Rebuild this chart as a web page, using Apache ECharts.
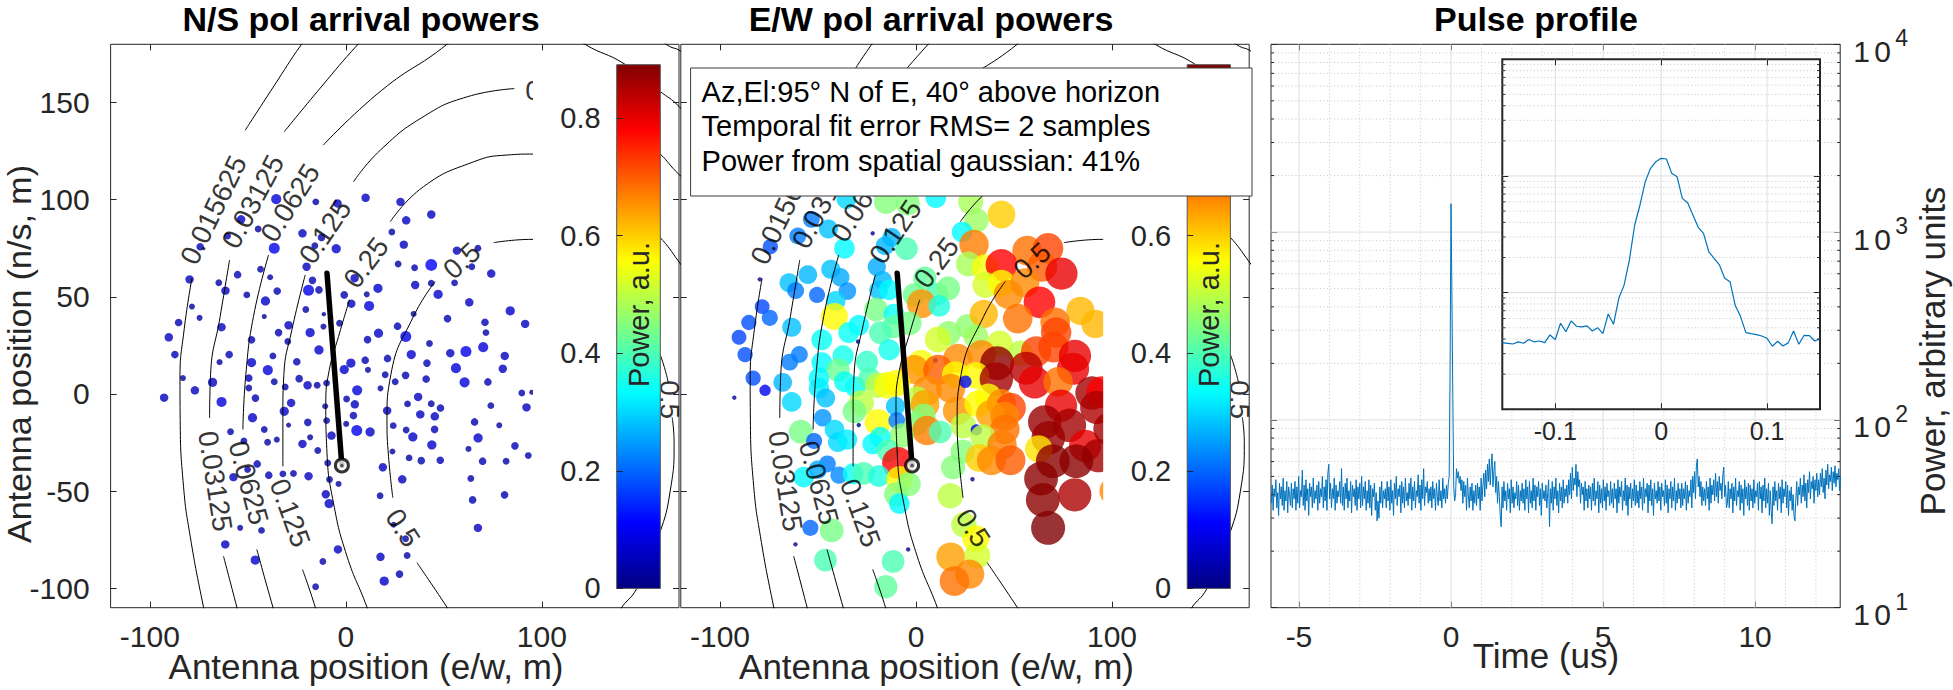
<!DOCTYPE html>
<html>
<head>
<meta charset="utf-8">
<title>Arrival powers and pulse profile</title>
<script src="https://cdn.jsdelivr.net/npm/echarts@6/dist/echarts.min.js"></script>
<style>
  html, body { margin: 0; padding: 0; background: #fff; }
  #chart { width: 1953px; height: 690px; }
</style>
</head>
<body>
<div id="chart"></div>
<script>
// antenna positions (m)
const antX = [
  -35.5,-15.3,-4.2,10.1,27.9,-53.4,-44.7,-22.1,-12.4,43.6,
  30.8,23.5,-60.3,-74.3,-36.5,-15.8,-4.9,29.6,56.7,67.4,
  -20.0,26.7,35.1,43.6,64.3,74.2,-43.5,-55.2,-38.6,-79.7,
  -17.0,4.5,-64.8,-61.4,-35.0,-19.0,-13.7,-0.8,10.7,16.4,
  35.4,43.6,55.5,-50.5,-41.0,-20.4,2.8,11.9,63.0,47.1,
  -78.5,-74.6,-41.6,-11.2,83.9,91.5,-85.3,-29.2,-11.4,-3.2,
  26.4,34.6,51.9,71.0,71.5,-63.4,-90.3,-34.3,-18.2,16.7,
  30.6,-48.1,-29.6,11.1,42.7,-13.7,53.3,61.3,70.1,-87.2,
  -59.5,-37.2,33.4,81.1,21.3,2.6,9.9,-64.4,-48.1,-25.0,
  -39.8,-0.8,11.3,41.4,56.2,80.1,
  -83.1,-68.0,-49.5,20.1,30.5,41.0,60.6,72.5,-49.5,-92.7,
  -77.0,-63.4,-36.5,-30.9,-23.8,-19.5,-14.6,-9.8,5.8,17.7,
  25.2,-46.1,-27.9,-31.4,-10.5,0.4,4.6,3.9,21.1,36.9,
  31.5,43.6,48.3,38.0,45.4,89.8,94.9,74.0,92.2,-47.6,
  -19.4,-9.8,0.2,5.6,12.4,24.2,30.8,45.3,65.7,78.3,
  -41.6,-58.8,-7.3,-18.2,34.2,67.5,-52.0,-39.9,-35.2,-22.1,
  -14.3,23.8,43.9,62.6,86.3,93.1,-9.2,-45.2,18.9,32.3,
  38.5,48.2,69.8,81.8,-57.3,-50.1,-39.3,-32.1,-26.7,-19.0,
  -8.3,-3.7,28.8,63.8,-10.2,-8.5,17.5,64.7,81.0,24.4,
  -53.9,-43.0,-61.5,67.4,30.5,-4.0,17.7,31.3,-46.2,-11.7,
  27.4,19.6,-15.4,-29.2,101,99
];
const antY = [
  100.3,98.9,98.1,101.0,98.9,89.9,84.9,82.7,80.6,92.4,
  89.4,83.4,81.3,75.8,75.0,76.3,74.8,76.9,73.8,75.0,
  65.5,66.9,65.0,66.4,65.5,62.0,64.2,61.4,60.1,59.0,
  58.5,59.6,57.3,53.2,53.0,53.4,53.6,51.0,51.3,54.4,
  56.1,57.0,57.2,51.0,47.9,43.5,46.5,45.3,47.2,51.3,
  45.0,39.2,39.9,41.1,42.8,36.1,36.8,35.4,34.7,36.4,
  34.9,41.2,38.8,36.9,31.6,34.4,29.2,31.6,31.6,31.3,
  29.6,27.9,27.0,28.0,26.0,22.7,21.0,21.9,24.1,20.3,
  20.3,19.6,20.3,19.6,18.3,15.9,17.4,16.4,16.2,16.6,
  12.3,12.6,12.4,15.9,13.3,13.0,
  8.2,6.0,8.2,9.9,9.6,7.7,6.0,6.2,3.1,-1.9,
  1.9,-4.1,6.3,3.6,7.9,4.5,4.5,5.6,1.9,2.9,
  6.3,-2.1,-4.6,-8.9,-6.3,-2.6,-5.3,-11.1,-8.6,-1.5,
  -5.1,-5.0,-7.2,-10.5,-11.5,0.5,0.9,-6.0,-6.9,-12.2,
  -14.6,-13.7,-15.4,-18.8,-19.5,-16.3,-18.5,-18.2,-14.4,-16.1,
  -18.3,-19.4,-21.4,-22.3,-22.1,-22.6,-24.2,-24.8,-23.5,-25.7,
  -29.1,-29.6,-26.2,-28.3,-26.7,-31.7,-35.5,-36.0,-37.7,-32.9,
  -34.3,-34.1,-34.6,-34.6,-42.8,-38.9,-41.8,-41.1,-40.9,-42.3,
  -44.0,-46.3,-43.9,-43.5,-51.6,-56.4,-52.4,-54.5,-51.9,-67.3,
  -68.9,-70.2,-77.4,-68.9,-74.5,-80.0,-83.8,-83.1,-85.5,-86.2,
  -92.7,-96.3,-99.2,-16.0,-50,-18
];
// N/S and E/W arrival power per antenna (a.u.)
const powerNS = [
  .079,.036,.055,.055,.055,.055,.036,.055,.045,.055,
  .055,.036,.036,.045,.093,.036,.066,.055,.055,.036,
  .055,.036,.036,.108,.036,.055,.036,.045,.028,.055,
  .045,.055,.036,.055,.045,.093,.045,.045,.028,.066,
  .055,.036,.036,.036,.066,.036,.055,.079,.055,.066,
  .028,.028,.020,.015,.066,.055,.045,.055,.028,.036,
  .045,.028,.045,.045,.036,.055,.055,.045,.066,.066,
  .093,.045,.036,.045,.036,.066,.055,.093,.079,.045,
  .045,.036,.066,.055,.045,.066,.045,.028,.066,.045,
  .079,.066,.028,.045,.079,.055,
  .028,.066,.045,.036,.045,.045,.079,.045,.036,.055,
  .055,.079,.036,.036,.045,.055,.036,.036,.079,.028,
  .036,.045,.055,.066,.028,.036,.055,.045,.055,.055,
  .036,.036,.045,.055,.055,.036,.020,.036,.055,.066,
  .045,.036,.028,.093,.066,.036,.036,.045,.045,.028,
  .036,.036,.055,.028,.066,.066,.036,.036,.028,.055,
  .036,.028,.066,.028,.045,.036,.036,.045,.055,.036,
  .045,.045,.045,.036,.055,.036,.045,.036,.036,.055,
  .036,.028,.055,.036,.055,.066,.036,.045,.045,.028,
  .028,.036,.055,.055,.036,.055,.055,.036,.066,.036,
  .045,.066,.036,.020,.055,.045
];
const powerEW = [
  .30,.45,.45,.33,.48,.22,.28,.015,.27,.60,
  .47,.33,.22,.18,.33,.27,.40,.67,.68,.72,
  .26,.48,.55,.78,.70,.80,.28,.27,.26,.015,
  .27,.42,.28,.22,.24,.28,.33,.43,.40,.44,
  .52,.56,.66,.20,.30,.44,.65,.36,.78,.66,
  .17,.20,.56,.34,.62,.62,.18,.33,.42,.44,
  .46,.62,.68,.68,.72,.28,.17,.34,.40,.46,
  .47,.34,.015,.52,.52,.35,.50,.72,.72,.18,
  .22,.35,.66,.80,.66,.55,.02,.22,.33,.38,
  .43,.65,.70,.88,.84,.80,
  .18,.27,.33,.56,.56,.86,.80,.68,.32,.015,
  .10,.30,.34,.34,.40,.50,.55,.56,.66,.66,
  .12,.28,.50,.44,.28,.50,.64,.45,.65,.56,
  .56,.66,.72,.64,.66,.86,.78,.80,.85,.24,
  .56,.22,.45,.67,.40,.50,.10,.68,.87,.86,
  .30,.44,.46,.34,.50,.87,.20,.30,.32,.33,
  .40,.45,.67,.58,.80,.86,.78,.22,.45,.60,
  .66,.70,.88,.88,.33,.26,.23,.34,.40,.36,
  .56,.45,.015,.88,.45,.33,.50,.88,.85,.50,
  .20,.44,.015,.89,.56,.015,.64,.52,.40,.40,
  .66,.68,.42,.015,.66,.86
];

// model contours (m), one list of line pieces per level, gaps where the labels sit
const contourSegs = [
  [ [[-12,194],[-22.6,180],[-37,158],[-51.3,135.8]],
    [[-78.5,59.6],[-82.5,33],[-84.6,8],[-84.5,-13.2],[-82.8,-47.5],[-79.4,-73.2],[-72.6,-109.7],[-70,-120]] ],
  [ [[18,192],[6.2,180],[-12.6,158],[-31.4,135]],
    [[-59.3,69],[-64.1,39.9],[-69,10],[-69.5,-12.3]],
    [[-62.4,-83.5],[-55.6,-109.7],[-53,-120]],
    [[155,186],[165,179],[170,177],[190,163]] ],
  [ [[60,190],[51.6,180],[18.4,156.4],[-11.5,128.1]],
    [[-39.4,71.6],[-47.1,39.9],[-51,10],[-52.5,-18.3]],
    [[-45.4,-80],[-37.2,-109.7],[-34,-120]],
    [[112,188],[122,180],[142,170],[160,156],[170,148],[190,125]] ],
  [ [[200,60],[185,100],[170,113],[160,124],[140,142],[127,147]],
    [[86,157.2],[62,153],[40,143],[17.6,125.5],[3.9,109.2]],
    [[-20.7,61.3],[-27.5,33],[-31.6,10],[-32.1,-10],[-32.1,-37.2]],
    [[-22.1,-90.3],[-15.6,-109.7],[-13,-120]] ],
  [ [[190,40],[170,68],[160,81],[140,101],[120,116],[95.8,123.5],[82.2,123],[65.2,119.5],[39.6,106.7],[22.7,88.7]],
    [[1.9,48.5],[-3.7,29.6],[-8.5,12],[-10.2,-5],[-9.6,-30.3],[-6.3,-56],[0.6,-83.5],[10.8,-109.7],[14,-120]] ],
  [ [[58,-120],[51.6,-109.7],[36.3,-86.8]],
    [[24,-53.4],[21.8,-32.1],[21,-13.2],[23,10],[34.5,39.9],[45.6,57.9]],
    [[75.4,77.9],[95,79.6],[115,77],[137.5,60],[152,40],[160.5,20],[164.5,6]],
    [[166.5,-12],[167.5,-25],[165.5,-50],[160,-72],[148.5,-100],[140,-111],[136,-120]] ]
];
const contourLabelText  = ['0.015625','0.03125','0.0625','0.125','0.25','0.5','0.03125','0.0625','0.125','0.5','0.5','0.125'];
const contourLabelX     = [-67.5,-47.4,-28.4,-10.5,10.4,59.2,-66.6,-49.6,-28.4,29.1,165.3,91.5];
const contourLabelY     = [94.7,99,98.4,83.5,67.6,68.6,-44.9,-45.7,-61.2,-68.9,-2.9,156.4];
const contourLabelAngle = [64,62,58,56,53,42,-81,-75,-70,-57,-90,0];

// arrival direction stick
const stickStart = [-9.6, 62.2];
const stickEnd = [-2.0, -36.8];

// pulse profile, sampled every 0.03 us from -5.91 us
const pulseT0 = -5.91, pulseDt = 0.03;
const pulsePower = [
  36,45,33,43,39,48,34,41,31,46,38,44,35,49,33,42,37,47,32,44,40,35,46,34,43,
  38,47,33,44,36,50,34,42,39,54,35,45,33,48,37,43,31,46,39,44,34,49,36,42,38,
  45,33,47,36,43,39,50,34,44,37,48,33,52,58,38,46,34,43,38,49,33,45,36,42,39,
  47,36,55,35,44,33,46,38,49,34,42,37,47,32,45,39,43,35,48,33,44,38,46,34,50,
  35,44,38,47,33,42,36,48,34,45,31,43,39,46,33,41,29,37,30,44,36,47,34,42,38,
  43,34,47,37,44,33,48,36,42,31,46,38,50,35,43,39,45,32,47,36,44,34,49,37,41,
  35,46,38,49,33,44,37,47,34,42,39,51,36,45,33,48,38,55,35,44,41,47,36,43,37,
  44,34,47,38,43,33,46,39,35,48,37,42,34,49,38,43,36,45,38,46,50,190,1416,463,133,
  44,37,40,55,49,53,46,50,42,48,36,47,39,45,33,49,40,34,44,37,46,33,42,36,45,
  35,46,38,44,33,49,37,45,52,39,54,43,58,47,62,45,56,66,44,53,60,41,50,36,47,
  39,31,27,44,34,47,37,42,33,46,38,43,32,48,36,44,34,41,38,47,35,45,33,42,37,
  46,36,43,33,48,38,44,32,47,36,42,34,49,37,45,33,44,39,47,35,43,31,46,38,42,
  37,45,34,41,48,27,43,36,47,33,44,38,49,35,42,32,46,37,44,34,48,36,43,39,45,
  36,48,40,52,38,56,42,49,45,58,39,53,44,48,36,46,40,44,33,47,37,43,34,45,38,
  44,33,46,37,49,35,42,38,47,32,45,36,43,34,48,37,44,33,46,39,42,35,47,36,43,
  34,46,38,43,32,48,36,44,39,47,33,42,37,49,35,45,31,44,38,46,34,43,37,48,35,
  45,36,42,34,47,38,44,33,49,36,43,39,46,32,45,37,48,35,43,31,46,38,42,36,47,
  37,44,33,46,39,42,35,48,36,45,32,43,38,47,34,44,37,49,33,42,36,46,38,43,34,
  46,35,43,38,47,33,45,36,42,39,48,34,50,41,53,38,57,62,44,50,39,47,35,44,37,
  43,35,47,38,44,33,49,36,45,40,48,37,52,39,47,36,50,42,46,38,51,56,39,45,34,
  36,47,34,43,38,46,32,44,37,49,35,42,39,47,33,45,36,43,31,48,38,44,35,46,33,
  45,37,43,34,48,36,42,39,46,33,47,38,44,32,45,37,49,34,43,36,46,31,42,33,28,
  44,35,47,37,42,33,46,38,44,32,48,36,43,39,47,34,45,31,42,37,44,33,40,31,29,
  38,47,35,44,40,49,36,45,39,51,37,46,34,48,41,53,38,47,43,50,36,48,42,52,39,
  48,40,52,44,55,41,49,38,54,45,58,43,51,47,56,42,53,46,57,44,52,48,55,42,50
];
// zoomed pulse, every 0.005 us from -0.15 us
const insetT0 = -0.15, insetDt = 0.005;
const insetPower = [
  37.3,36.8,36.3,37.8,36.8,39.6,37.9,38.5,37.3,43.4,
  39.6,54.6,46.3,57.2,51.5,50.8,51.9,46.9,50.1,44.5,
  65.7,53.5,89.4,116,190,380,564,894,1163,1326,
  1416,1398,1053,986,643,590,463,363,322,224,
  197,173,133,124,77.4,62.3,45.4,44.5,43.7,42.5,
  40.6,34.7,38.3,34.9,37.1,46.9,36.1,43.1,42.8,38.5,
  40.1
];

const mapXTicks = [-100, 0, 100];
const mapYTicks = [-100, -50, 0, 50, 100, 150];
const timeTicks = [-5, 0, 5, 10];
const timeMinor = [-4, -3, -2, -1, 1, 2, 3, 4, 6, 7, 8, 9, 11, 12];
const insetTicks = [-0.1, 0, 0.1];
const decades = [10, 100, 1000, 10000];
const decadeMajor = [100, 1000];
const decadeMinor = [20,30,40,50,60,70,80,90,200,300,400,500,600,700,800,900,2000,3000,4000,5000,6000,7000,8000,9000];
const colorbarTicks = [0, 0.2, 0.4, 0.6, 0.8];
const CMAX = 0.891;

const FONT = "'Liberation Sans', Arial, Helvetica, sans-serif";
const INK = '#262626';

function jet(t) {
  t = Math.max(0, Math.min(1, t));
  const c = v => Math.round(255 * Math.max(0, Math.min(1, v)));
  return 'rgb(' + c(1.5 - Math.abs(4 * t - 3)) + ',' + c(1.5 - Math.abs(4 * t - 2)) + ',' + c(1.5 - Math.abs(4 * t - 1)) + ')';
}
const jetStops = [0, 0.125, 0.375, 0.625, 0.875, 1].map(o => ({ offset: o, color: jet(o) }));

function mapSeries(xi, yi, power) {
  const s = [];
  s.push({
    type: 'scatter', xAxisIndex: xi, yAxisIndex: yi, z: 2, silent: true,
    data: antX.map((x, i) => ({
      value: [x, antY[i]],
      symbolSize: 36 * Math.sqrt(power[i]),
      itemStyle: { color: jet(power[i] / CMAX) }
    }))
  });
  contourSegs.forEach(level => level.forEach(seg => {
    s.push({
      type: 'line', xAxisIndex: xi, yAxisIndex: yi, z: 3, silent: true,
      data: seg, smooth: 0.5, symbol: 'none',
      lineStyle: { color: '#000', width: 1 }
    });
  }));
  s.push({
    type: 'scatter', xAxisIndex: xi, yAxisIndex: yi, z: 4, silent: true,
    symbolSize: 1, itemStyle: { color: 'rgba(0,0,0,0)' },
    label: { show: true, position: 'inside', fontSize: 28, fontFamily: FONT, color: '#000' },
    data: contourLabelText.map((t, i) => ({
      value: [contourLabelX[i], contourLabelY[i]],
      label: { formatter: t, rotate: contourLabelAngle[i], align: i === contourLabelText.length - 1 ? 'left' : 'center' }
    }))
  });
  s.push({
    type: 'line', xAxisIndex: xi, yAxisIndex: yi, z: 5, silent: true,
    data: [stickStart, stickEnd], symbol: 'none',
    lineStyle: { color: '#000', width: 5.5, cap: 'round' }
  });
  s.push({
    type: 'scatter', xAxisIndex: xi, yAxisIndex: yi, z: 6, silent: true,
    data: [stickEnd], symbolSize: 13,
    itemStyle: { color: '#fff', borderColor: '#000', borderWidth: 3 }
  });
  s.push({
    type: 'scatter', xAxisIndex: xi, yAxisIndex: yi, z: 7, silent: true,
    data: [stickEnd], symbolSize: 3.5, itemStyle: { color: '#333' }
  });
  return s;
}

function gridLines(xi, yi, vals, vertical, ref, style, z) {
  return {
    type: 'custom', xAxisIndex: xi, yAxisIndex: yi, z: z, silent: true,
    data: vals.map(v => vertical ? [v, ref] : [ref, v]),
    renderItem: function (params, api) {
      const cs = params.coordSys;
      const p = api.coord([api.value(0), api.value(1)]);
      const shape = vertical
        ? { x1: p[0], y1: cs.y, x2: p[0], y2: cs.y + cs.height }
        : { x1: cs.x, y1: p[1], x2: cs.x + cs.width, y2: p[1] };
      return { type: 'line', shape: shape, style: style };
    }
  };
}
function edgeTicks(xi, yi, vals, ref, len, z) {
  return {
    type: 'custom', xAxisIndex: xi, yAxisIndex: yi, z: z, silent: true,
    data: vals.map(v => [ref, v]),
    renderItem: function (params, api) {
      const cs = params.coordSys;
      const y = api.coord([api.value(0), api.value(1)])[1];
      const st = { stroke: INK, lineWidth: 1 };
      return { type: 'group', children: [
        { type: 'line', shape: { x1: cs.x, y1: y, x2: cs.x + len, y2: y }, style: st },
        { type: 'line', shape: { x1: cs.x + cs.width - len, y1: y, x2: cs.x + cs.width, y2: y }, style: st }
      ] };
    }
  };
}
// "10" with a raised exponent, placed right of the log axis
function decadeLabels(xi, yi, vals, ref, z) {
  const t = (s, x, y, fs) => ({
    type: 'text', x: x, y: y,
    style: { text: s, fontSize: fs, fontFamily: FONT, fill: INK, align: 'left', verticalAlign: 'middle', textAlign: 'left', textVerticalAlign: 'middle' }
  });
  return {
    type: 'custom', xAxisIndex: xi, yAxisIndex: yi, z: z, silent: true, clip: false,
    data: vals.map(v => [ref, v]),
    renderItem: function (params, api) {
      const cs = params.coordSys;
      const v = api.value(1);
      const y = api.coord([api.value(0), v])[1];
      const x0 = cs.x + cs.width + 13;
      return { type: 'group', children: [
        t('1', x0, y + 7, 30), t('0', x0 + 21, y + 7, 30),
        t(String(Math.round(Math.log10(v))), x0 + 42, y - 6, 23)
      ] };
    }
  };
}

const majorStyle = { stroke: '#dedede', lineWidth: 1 };
const minorStyle = { stroke: '#c6c6c6', lineWidth: 1, lineDash: [1, 2.5] };

function valAxis(gi, min, max, pos, ticks, labels, extra) {
  return Object.assign({
    gridIndex: gi, type: 'value', min: min, max: max, position: pos,
    axisLine: { show: false, onZero: false },
    axisTick: { show: true, inside: true, length: 6, customValues: ticks, lineStyle: { color: INK } },
    axisLabel: labels ? Object.assign({ show: true, customValues: ticks, fontSize: 30, fontFamily: FONT, color: INK }, labels) : { show: false },
    splitLine: { show: false }
  }, extra || {});
}
function logAxis(gi, pos, z) {
  return {
    gridIndex: gi, type: 'log', logBase: 10, min: 10, max: 10000, position: pos, z: z || 0,
    axisLine: { show: false, onZero: false },
    axisTick: { show: true, inside: true, length: 6, lineStyle: { color: INK } },
    axisLabel: { show: false },
    splitLine: { show: false }
  };
}

const cbGradient = new echarts.graphic.LinearGradient(0, 1, 0, 0, jetStops);

const option = {
  animation: false,
  backgroundColor: '#fff',
  textStyle: { fontFamily: FONT },
  grid: [
    { left: 110.6, top: 44.3, width: 568.4, height: 563.4, show: true, borderColor: INK, borderWidth: 1, backgroundColor: 'transparent', containLabel: false, outerBoundsMode: 'none' },
    { left: 680.8, top: 44.3, width: 568.4, height: 563.4, show: true, borderColor: INK, borderWidth: 1, backgroundColor: 'transparent', containLabel: false, outerBoundsMode: 'none' },
    { left: 1271, top: 44.3, width: 569.2, height: 563.4, show: true, borderColor: INK, borderWidth: 1, backgroundColor: 'transparent', containLabel: false, outerBoundsMode: 'none' },
    { left: 1502.3, top: 59.3, width: 317.7, height: 350, show: true, borderColor: INK, borderWidth: 2, backgroundColor: '#fff', z: 5, containLabel: false, outerBoundsMode: 'none' },
    { left: 616.7, top: 64.7, width: 43.6, height: 523.7, show: true, borderColor: '#555', borderWidth: 1, backgroundColor: cbGradient, z: 21, containLabel: false, outerBoundsMode: 'none' },
    { left: 1187.2, top: 64.7, width: 43.2, height: 523.7, show: true, borderColor: '#555', borderWidth: 1, backgroundColor: cbGradient, z: 21, containLabel: false, outerBoundsMode: 'none' }
  ],
  xAxis: [
    valAxis(0, -120, 170, 'bottom', mapXTicks, { margin: 14 }),
    valAxis(0, -120, 170, 'top', mapXTicks, null),
    valAxis(1, -120, 170, 'bottom', mapXTicks, { margin: 14 }),
    valAxis(1, -120, 170, 'top', mapXTicks, null),
    valAxis(2, -5.92, 12.8, 'bottom', timeTicks, { margin: 14 }),
    valAxis(2, -5.92, 12.8, 'top', timeTicks, null),
    valAxis(3, -0.15, 0.15, 'bottom', insetTicks, { margin: 9, fontSize: 25 }, { z: 8 }),
    valAxis(3, -0.15, 0.15, 'top', insetTicks, null, { z: 8 }),
    { gridIndex: 4, type: 'value', min: 0, max: 1, show: false, axisLine: { onZero: false } },
    { gridIndex: 5, type: 'value', min: 0, max: 1, show: false, axisLine: { onZero: false } }
  ],
  yAxis: [
    valAxis(0, -110, 180, 'left', mapYTicks, { margin: 21 }),
    valAxis(0, -110, 180, 'right', mapYTicks, null),
    valAxis(1, -110, 180, 'left', mapYTicks, null),
    valAxis(1, -110, 180, 'right', mapYTicks, null),
    logAxis(2, 'right'),
    logAxis(2, 'left'),
    logAxis(3, 'left', 8),
    logAxis(3, 'right', 8),
    valAxis(4, 0, CMAX, 'left', colorbarTicks, { margin: 16, fontSize: 29 }, { z: 22 }),
    valAxis(5, 0, CMAX, 'left', colorbarTicks, { margin: 16, fontSize: 29 }, { z: 22 })
  ],
  series: [].concat(
    mapSeries(0, 0, powerNS),
    mapSeries(2, 2, powerEW),
    [
      gridLines(4, 4, timeTicks, true, 100, majorStyle, 1),
      gridLines(4, 4, timeMinor, true, 100, minorStyle, 1),
      gridLines(4, 4, decadeMajor, false, 0, majorStyle, 1),
      gridLines(4, 4, decadeMinor, false, 0, minorStyle, 1),
      {
        type: 'line', xAxisIndex: 4, yAxisIndex: 4, z: 3, silent: true, symbol: 'none',
        data: pulsePower.map((v, i) => [+(pulseT0 + i * pulseDt).toFixed(3), v]),
        lineStyle: { color: '#0072BD', width: 1 }
      },
      edgeTicks(4, 4, decadeMinor, 0, 3, 4),
      decadeLabels(4, 4, decades, 0, 4),
      gridLines(6, 6, insetTicks, true, 100, majorStyle, 6),
      gridLines(6, 6, decadeMajor, false, 0, majorStyle, 6),
      gridLines(6, 6, decadeMinor, false, 0, minorStyle, 6),
      {
        type: 'line', xAxisIndex: 6, yAxisIndex: 6, z: 7, silent: true, symbol: 'none',
        data: insetPower.map((v, i) => [+(insetT0 + i * insetDt).toFixed(3), v]),
        lineStyle: { color: '#0072BD', width: 1.2 }
      },
      edgeTicks(6, 6, decadeMinor, 0, 3, 8)
    ]
  ),
  graphic: { elements: [] }
};

function txt(x, y, s, size, o) {
  o = o || {};
  return {
    type: 'text', x: x, y: y, rotation: o.rot || 0, z: o.z || 40, silent: true,
    style: {
      text: s, fontSize: size, fontFamily: FONT, fontWeight: o.bold ? 'bold' : 'normal',
      fill: o.color || INK, align: o.align || 'center', verticalAlign: 'middle',
      textAlign: o.align || 'center', textVerticalAlign: 'middle'
    }
  };
}
const g = option.graphic.elements;
// white backing behind the two colorbars (hides the contours there)
g.push({ type: 'rect', z: 20, silent: true, shape: { x: 533, y: 64.7, width: 127.4, height: 523.7 }, style: { fill: '#fff' } });
g.push({ type: 'rect', z: 20, silent: true, shape: { x: 1103.2, y: 64.7, width: 127.2, height: 523.7 }, style: { fill: '#fff' } });
g.push(txt(638.5, 314.5, 'Power, a.u.', 29, { rot: Math.PI / 2, z: 23 }));
g.push(txt(1208.8, 314.5, 'Power, a.u.', 29, { rot: Math.PI / 2, z: 23 }));
// titles and axis names
g.push(txt(361, 18.5, 'N/S pol arrival powers', 34, { bold: true, color: '#000' }));
g.push(txt(931, 18.5, 'E/W pol arrival powers', 34, { bold: true, color: '#000' }));
g.push(txt(1536, 18.5, 'Pulse profile', 34, { bold: true, color: '#000' }));
g.push(txt(366, 666, 'Antenna position (e/w, m)', 35));
g.push(txt(936.5, 666, 'Antenna position (e/w, m)', 35));
g.push(txt(19, 354, 'Antenna position (n/s, m)', 34, { rot: Math.PI / 2 }));
g.push(txt(1546, 655, 'Time (us)', 35));
g.push(txt(1932.5, 351, 'Power, arbitrary units', 35, { rot: Math.PI / 2 }));
// annotation box
g.push({ type: 'rect', z: 30, silent: true, shape: { x: 690.6, y: 68, width: 561.4, height: 128 }, style: { fill: '#fff', stroke: '#3c3c3c', lineWidth: 1 } });
g.push(txt(701.6, 91.5, 'Az,El:95° N of E, 40° above horizon', 29, { align: 'left', color: '#000', z: 31 }));
g.push(txt(701.6, 125.5, 'Temporal fit error RMS= 2 samples', 29, { align: 'left', color: '#000', z: 31 }));
g.push(txt(701.6, 160.5, 'Power from spatial gaussian: 41%', 29, { align: 'left', color: '#000', z: 31 }));

const chart = echarts.init(document.getElementById('chart'), null, { renderer: 'svg', width: 1953, height: 690 });
chart.setOption(option);
</script>
</body>
</html>
